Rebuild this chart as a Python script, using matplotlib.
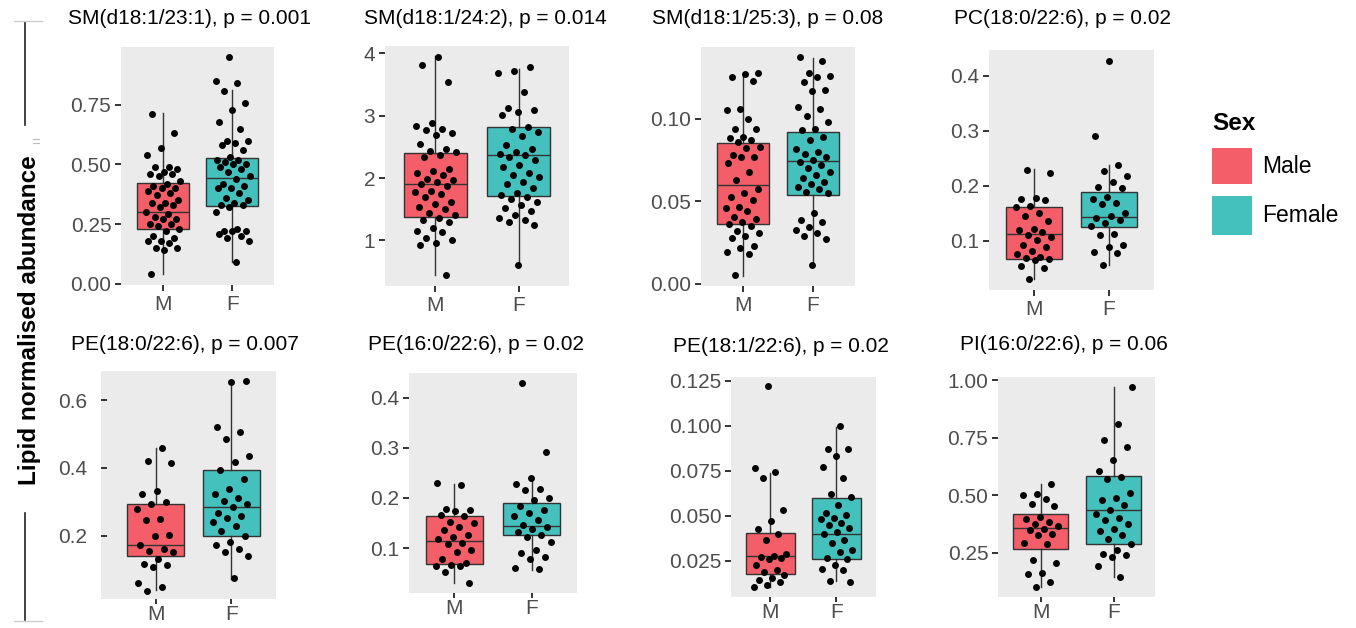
import matplotlib
matplotlib.use('Agg')
import matplotlib.pyplot as plt
import numpy as np
from matplotlib.patches import Rectangle
from matplotlib.lines import Line2D

plt.rcParams['font.family'] = ['Liberation Sans', 'DejaVu Sans']

# ---------------- data ----------------
titles = ["SM(d18:1/23:1), p = 0.001", "SM(d18:1/24:2), p = 0.014",
          "SM(d18:1/25:3), p = 0.08", "PC(18:0/22:6), p = 0.02",
          "PE(18:0/22:6), p = 0.007", "PE(16:0/22:6), p = 0.02",
          "PE(18:1/22:6), p = 0.02", "PI(16:0/22:6), p = 0.06"]
groups = ["M", "F"]
legend_labels = ["Male", "Female"]
legend_title = "Sex"
y_label = "Lipid normalised abundance"

sm231_m = [0.71, 0.63, 0.57, 0.54, 0.49, 0.49, 0.48, 0.47, 0.46, 0.46, 0.45, 0.43, 0.42,
           0.41, 0.40, 0.40, 0.39, 0.38, 0.37, 0.35, 0.34, 0.34, 0.33, 0.32, 0.30, 0.29,
           0.28, 0.27, 0.27, 0.25, 0.25, 0.24, 0.23, 0.22, 0.20, 0.19, 0.18, 0.18, 0.17,
           0.15, 0.15, 0.14, 0.04]
sm231_f = [0.95, 0.85, 0.84, 0.81, 0.76, 0.73, 0.68, 0.65, 0.60, 0.60, 0.59, 0.58, 0.56,
           0.53, 0.52, 0.52, 0.51, 0.50, 0.50, 0.49, 0.48, 0.47, 0.45, 0.44, 0.42, 0.41,
           0.40, 0.40, 0.38, 0.36, 0.35, 0.34, 0.33, 0.33, 0.32, 0.30, 0.23, 0.22, 0.22,
           0.22, 0.21, 0.20, 0.19, 0.18, 0.09]
sm242_m = [3.95, 3.82, 3.54, 2.88, 2.84, 2.79, 2.77, 2.72, 2.69, 2.55, 2.46, 2.44, 2.42,
           2.37, 2.34, 2.15, 2.12, 2.09, 2.05, 1.99, 1.97, 1.94, 1.91, 1.87, 1.80, 1.77,
           1.74, 1.70, 1.62, 1.59, 1.53, 1.50, 1.44, 1.41, 1.36, 1.33, 1.29, 1.20, 1.16,
           1.13, 1.04, 1.00, 0.96, 0.93, 0.44]
sm242_f = [3.78, 3.72, 3.68, 3.39, 3.13, 3.10, 3.06, 3.02, 2.82, 2.79, 2.74, 2.67, 2.53,
           2.47, 2.42, 2.39, 2.37, 2.34, 2.29, 2.21, 2.18, 2.09, 2.05, 2.02, 1.94, 1.91,
           1.84, 1.76, 1.73, 1.69, 1.66, 1.62, 1.57, 1.52, 1.48, 1.41, 1.36, 1.33, 1.29,
           1.25, 0.61]
sm253_m = [0.128, 0.127, 0.125, 0.123, 0.106, 0.105, 0.0996, 0.094, 0.0935, 0.089, 0.088,
           0.087, 0.086, 0.083, 0.082, 0.078, 0.077, 0.0765, 0.0734, 0.0678, 0.0628,
           0.0573, 0.0547, 0.0527, 0.0507, 0.0467, 0.0457, 0.0437, 0.0402, 0.039, 0.0376,
           0.0362, 0.035, 0.032, 0.0306, 0.029, 0.0276, 0.0225, 0.0215, 0.019, 0.018, 0.0052]
sm253_f = [0.1376, 0.135, 0.128, 0.126, 0.125, 0.122, 0.1175, 0.1167, 0.107, 0.1056,
           0.1014, 0.098, 0.094, 0.0934, 0.089, 0.0873, 0.0819, 0.0799, 0.0785, 0.0769,
           0.0752, 0.0738, 0.0718, 0.0698, 0.0678, 0.0658, 0.0638, 0.0618, 0.0604, 0.0588,
           0.0571, 0.0557, 0.0547, 0.0427, 0.0386, 0.0376, 0.0342, 0.0326, 0.0306, 0.029,
           0.027, 0.0115]
pc_m = [0.229, 0.223, 0.177, 0.175, 0.174, 0.163, 0.161, 0.151, 0.145, 0.136, 0.122, 0.119,
        0.115, 0.110, 0.107, 0.102, 0.092, 0.088, 0.082, 0.076, 0.071, 0.068, 0.066, 0.064,
        0.053, 0.050, 0.030]
pc_f = [0.427, 0.29, 0.238, 0.226, 0.217, 0.206, 0.197, 0.195, 0.18, 0.175, 0.169, 0.167,
        0.15, 0.144, 0.141, 0.138, 0.133, 0.127, 0.113, 0.110, 0.092, 0.089, 0.080, 0.077,
        0.056]
pe180_m = [0.459, 0.42, 0.413, 0.333, 0.322, 0.30, 0.293, 0.278, 0.249, 0.245, 0.202, 0.198,
           0.173, 0.161, 0.156, 0.151, 0.13, 0.117, 0.112, 0.107, 0.059, 0.049, 0.036]
pe180_f = [0.657, 0.653, 0.52, 0.507, 0.485, 0.436, 0.417, 0.395, 0.368, 0.339, 0.322, 0.312,
           0.302, 0.293, 0.286, 0.266, 0.259, 0.251, 0.239, 0.229, 0.215, 0.200, 0.18, 0.173,
           0.161, 0.151, 0.14, 0.075]
pe160_m = [0.229, 0.226, 0.177, 0.176, 0.173, 0.166, 0.163, 0.153, 0.150, 0.143, 0.136, 0.126,
           0.123, 0.118, 0.111, 0.109, 0.097, 0.093, 0.078, 0.071, 0.067, 0.065, 0.064, 0.052,
           0.030]
pe160_f = [0.429, 0.291, 0.239, 0.228, 0.218, 0.216, 0.199, 0.196, 0.183, 0.176, 0.170, 0.163,
           0.156, 0.146, 0.142, 0.138, 0.133, 0.126, 0.123, 0.113, 0.097, 0.091, 0.082, 0.078,
           0.060, 0.058]
pe181_m = [0.122, 0.0765, 0.0743, 0.0712, 0.053, 0.0472, 0.0425, 0.0398, 0.0365, 0.029, 0.028,
           0.027, 0.0268, 0.026, 0.0226, 0.0202, 0.0189, 0.017, 0.0158, 0.0147, 0.0134,
           0.0115, 0.0106]
pe181_f = [0.0996, 0.0872, 0.0869, 0.083, 0.0771, 0.0712, 0.062, 0.0605, 0.0562, 0.0516,
           0.0503, 0.049, 0.0485, 0.0461, 0.0448, 0.0435, 0.0411, 0.0398, 0.0365, 0.035,
           0.031, 0.030, 0.0268, 0.0263, 0.0226, 0.0208, 0.0198, 0.0139, 0.0134]
pi_m = [0.551, 0.508, 0.50, 0.486, 0.464, 0.453, 0.406, 0.399, 0.385, 0.375, 0.366, 0.356,
        0.351, 0.334, 0.327, 0.293, 0.288, 0.221, 0.207, 0.163, 0.157, 0.124, 0.102]
pi_f = [0.971, 0.812, 0.742, 0.708, 0.653, 0.606, 0.58, 0.573, 0.511, 0.49, 0.479, 0.457,
        0.438, 0.421, 0.403, 0.392, 0.377, 0.356, 0.346, 0.327, 0.312, 0.291, 0.262, 0.247,
        0.24, 0.233, 0.192, 0.146]

male_points = [sm231_m, sm242_m, sm253_m, pc_m, pe180_m, pe160_m, pe181_m, pi_m]
female_points = [sm231_f, sm242_f, sm253_f, pc_f, pe180_f, pe160_f, pe181_f, pi_f]

# box statistics: whisker low, q1, median, q3, whisker high
male_box = [[0.039, 0.229, 0.302, 0.424, 0.714],
            [0.44, 1.383, 1.90, 2.41, 3.96],
            [0.0048, 0.0362, 0.0598, 0.0855, 0.127],
            [0.030, 0.067, 0.113, 0.162, 0.230],
            [0.039, 0.141, 0.173, 0.293, 0.459],
            [0.030, 0.068, 0.115, 0.163, 0.228],
            [0.0106, 0.018, 0.0278, 0.0407, 0.0738],
            [0.102, 0.269, 0.359, 0.421, 0.551]]
female_box = [[0.09, 0.326, 0.445, 0.527, 0.811],
              [0.61, 1.72, 2.37, 2.82, 3.75],
              [0.0115, 0.0539, 0.0742, 0.092, 0.137],
              [0.0557, 0.124, 0.1425, 0.188, 0.238],
              [0.073, 0.198, 0.286, 0.395, 0.659],
              [0.057, 0.126, 0.144, 0.189, 0.239],
              [0.0139, 0.0263, 0.0398, 0.0599, 0.0992],
              [0.146, 0.291, 0.438, 0.583, 0.971]]

y_ticks = [[0, 0.25, 0.5, 0.75], [1, 2, 3, 4], [0, 0.05, 0.10], [0.1, 0.2, 0.3, 0.4],
           [0.2, 0.4, 0.6], [0.1, 0.2, 0.3, 0.4], [0.025, 0.05, 0.075, 0.1, 0.125],
           [0.25, 0.5, 0.75, 1.0]]
y_ticklabels = [["0.00", "0.25", "0.50", "0.75"], ["1", "2", "3", "4"],
                ["0.00", "0.05", "0.10"], ["0.1", "0.2", "0.3", "0.4"],
                ["0.2", "0.4", "0.6"], ["0.1", "0.2", "0.3", "0.4"],
                ["0.025", "0.050", "0.075", "0.100", "0.125"],
                ["0.25", "0.50", "0.75", "1.00"]]

# ---------------- layout / style ----------------
W, H = 1356, 628
fig = plt.figure(figsize=(W / 100, H / 100), dpi=100)

# panel rectangles in pixels: left, top, right, bottom
rects = [(121, 47, 274, 285), (385, 46, 569, 286), (701, 47, 855, 286), (989, 50, 1154, 290),
         (101, 371, 276, 599), (409, 373, 577, 593), (731, 377, 876, 597), (998, 377, 1155, 597)]
ylims = [(-0.006, 0.993), (0.27, 4.12), (-0.0015, 0.1435), (0.0102, 0.447),
         (0.013, 0.686), (0.0105, 0.449), (0.005, 0.127), (0.059, 1.014)]
xlims = [(0.4, 2.6), (0.4, 2.6), (0.4, 2.6), (0.4, 2.6),
         (0.28, 2.59), (0.41, 2.59), (0.405, 2.6), (0.42, 2.56)]
title_pos = [(190, 19), (485, 19), (768, 19), (1063, 19),
             (185, 345), (476, 345), (781, 347), (1064, 345)]

male_col = '#F35E69'
female_col = '#44C1BD'
line_col = '#333333'

for i in range(8):
    l, t, r, b = rects[i]
    ax = fig.add_axes([l / W, 1 - b / H, (r - l) / W, (b - t) / H])
    ax.set_facecolor('#EBEBEB')
    for sp in ax.spines.values():
        sp.set_visible(False)
    stats = []
    for bx in (male_box[i], female_box[i]):
        stats.append(dict(whislo=bx[0], q1=bx[1], med=bx[2], q3=bx[3], whishi=bx[4], fliers=[]))
    bp = ax.bxp(stats, positions=[1, 2], widths=0.75, patch_artist=True,
                showfliers=False, showcaps=False,
                boxprops=dict(edgecolor=line_col, linewidth=1.0),
                medianprops=dict(color=line_col, linewidth=1.0),
                whiskerprops=dict(color=line_col, linewidth=1.0))
    bp['boxes'][0].set_facecolor(male_col)
    bp['boxes'][1].set_facecolor(female_col)
    for pos, pts in ((1, male_points[i]), (2, female_points[i])):
        pts = np.asarray(pts)
        n = len(pts)
        jit = ((np.arange(n) * 0.6180339887 + 0.37 * i + 0.2 * pos) % 1.0 - 0.5) * 0.5
        ax.scatter(pos + jit, pts, s=25, color='black', linewidths=0, zorder=4)
    ax.set_xlim(*xlims[i])
    ax.set_ylim(*ylims[i])
    ax.set_xticks([1, 2])
    ax.set_xticklabels(groups)
    ax.set_yticks(y_ticks[i])
    ax.set_yticklabels(y_ticklabels[i])
    ax.tick_params(axis='both', length=4, width=1.4, color=line_col,
                   labelsize=15, labelcolor='#4D4D4D', pad=3)
    if i >= 4:
        ax.tick_params(axis='x', length=3.5, pad=1)
    if i == 4:
        ax.tick_params(axis='y', direction='in', length=4, pad=10)
    fig.text(title_pos[i][0] / W, 1 - title_pos[i][1] / H, titles[i],
             ha='center', va='center', fontsize=15, color='black')

# legend
fig.text(1212 / W, 1 - 123 / H, legend_title, ha='left', va='center',
         fontsize=17.5, fontweight='bold', color='black')
for k, (col, lab, yt, yb) in enumerate(((male_col, legend_labels[0], 148, 184),
                                        (female_col, legend_labels[1], 196, 235))):
    fig.patches.append(Rectangle((1212 / W, 1 - yb / H), 40 / W, (yb - yt) / H,
                                 transform=fig.transFigure, facecolor=col, edgecolor='none'))
    fig.text(1262 / W, 1 - (yt + yb) / 2 / H, lab, ha='left', va='center',
             fontsize=16.5, color='black')

# y label and side brackets
fig.text(30 / W, 1 - 320 / H, y_label, rotation=90, ha='center', va='center',
         fontsize=17.5, fontweight='bold', color='black')
for (y0, y1) in ((22, 125), (513, 620)):
    fig.add_artist(Line2D([25 / W, 25 / W], [1 - y0 / H, 1 - y1 / H],
                          transform=fig.transFigure, color='#222222', linewidth=1.2))
for yy in (21, 621):
    fig.add_artist(Line2D([14 / W, 42 / W], [1 - yy / H, 1 - yy / H],
                          transform=fig.transFigure, color='#CCCCCC', linewidth=1.0))
for yy in (139, 143):
    fig.add_artist(Line2D([33 / W, 39 / W], [1 - yy / H, 1 - yy / H],
                          transform=fig.transFigure, color='#BBBBBB', linewidth=0.8))

fig.savefig('out.png', dpi=100)
